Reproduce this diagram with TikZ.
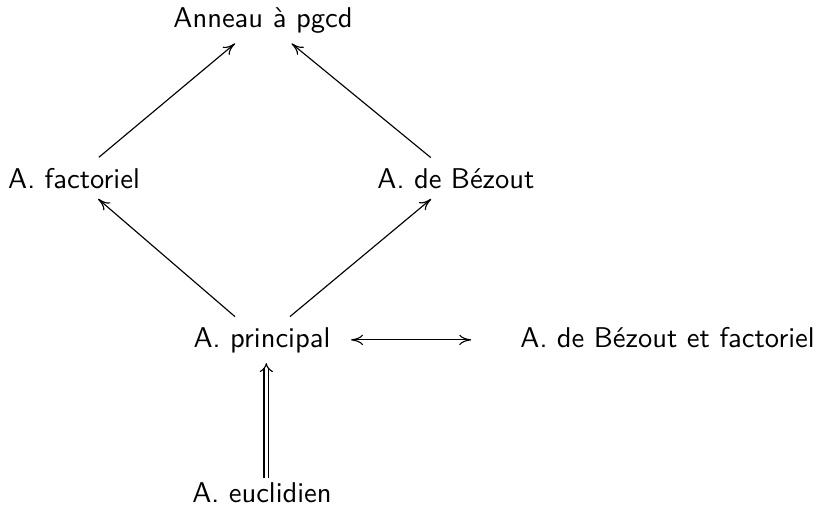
\documentclass[tikz,border=0pt]{standalone}
\usetikzlibrary{arrows.meta}
\begin{document}
\begin{tikzpicture}[x=0.35pt,y=-0.35pt,
  cell/.style={anchor=base,inner sep=3.5pt,font=\sffamily},
  cmtip/.tip={Computer Modern Rightarrow[length=4.2pt,width=3.6pt]},
  arr/.style={-cmtip,line width=0.4pt},
  darr/.style={double,double distance=1.2pt,line width=0.4pt,-{Implies[length=3.2pt]}}]
\useasboundingbox (0,0) rectangle (819,510);
\node[cell] (pgcd) at (263,27) {Anneau à pgcd};
\node[cell] (fact) at (74,188) {A. factoriel};
\node[cell] (bez) at (456,188) {A. de Bézout};
\node[cell] (princ) at (262,347) {A. principal};
\node[cell] (bef) at (667.5,347) {A. de Bézout et factoriel};
\node[cell] (eucl) at (262,502) {A. euclidien};
\draw[arr] (fact) -- (pgcd);
\draw[arr] (bez) -- (pgcd);
\draw[arr] (princ) -- (fact);
\draw[arr] (princ) -- (bez);
\draw[cmtip-cmtip,line width=0.4pt,shorten <=3.5pt,shorten >=13.5pt] (princ.east) -- (princ.east -| bef.west);
\draw[darr,shorten <=-2.2pt] ([xshift=1.5pt]eucl.north) -- ([xshift=1.5pt]princ.south);
\end{tikzpicture}
\end{document}
